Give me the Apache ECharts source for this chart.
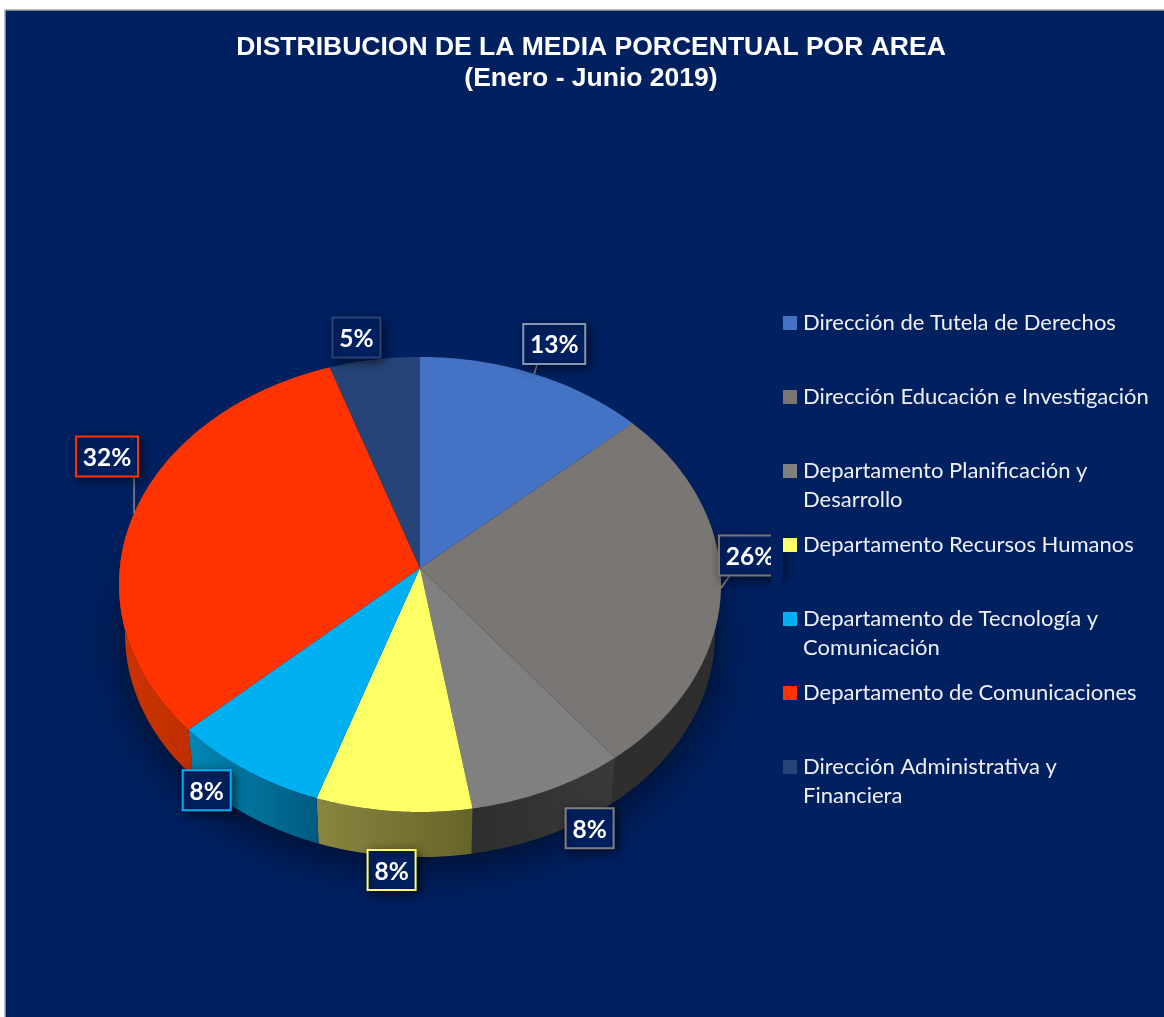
<!DOCTYPE html>
<html>
<head>
<meta charset="utf-8">
<style>html,body{margin:0;padding:0;background:#fff;overflow:hidden}#c{width:1164px;height:1017px}</style>
<script src="https://cdn.jsdelivr.net/npm/echarts@6/dist/echarts.min.js"></script>
</head>
<body>
<div id="c"></div>
<script>
const categories = [
  'Dirección de Tutela de Derechos',
  'Dirección Educación e Investigación',
  'Departamento Planificación y Desarrollo',
  'Departamento Recursos Humanos',
  'Departamento de Tecnología y Comunicación',
  'Departamento de Comunicaciones',
  'Dirección Administrativa y Financiera'
];
const legendLines = [
  ['Dirección de Tutela de Derechos'],
  ['Dirección Educación e Investigación'],
  ['Departamento Planificación y', 'Desarrollo'],
  ['Departamento Recursos Humanos'],
  ['Departamento de Tecnología y', 'Comunicación'],
  ['Departamento de Comunicaciones'],
  ['Dirección Administrativa y', 'Financiera']
];
const values = [13.3, 26.2, 7.9, 7.8, 7.9, 31.7, 5.2];
const colors = ['#4472c4', '#7a7674', '#808080', '#ffff66', '#00b0f0', '#ff3300', '#264478'];
const borderColors = ['#8497b0', '#7a7674', '#808080', '#ffff66', '#00b0f0', '#ff3300', '#264478'];
const wallStops = [
  ['#2a4476', '#2a4476'], ['#2f2e2e', '#2f2e2e'], ['#2f2e2e', '#3a3a3a'], ['#8a8540', '#666428'],
  ['#0088b4', '#005a80'], ['#cc3300', '#a82800'], ['#182a4c', '#182a4c']
];
const labelOffsets = [[20, -30], [29, -32.5], [41, 38], [-2, 59], [-39.5, 20], [-27, -57], [-18, -22]];
const leaderDx = [3, 9, null, null, null, 0, null];
const titleText = 'DISTRIBUCION DE LA MEDIA PORCENTUAL POR AREA\n(Enero - Junio 2019)';

const hub = { x: 420, y: 568 };
const A = 300.2, B = 226.3, K = 0.0725, DEPTH = 50, SHRINK = 0.98;
const total = values.reduce((a, b) => a + b, 0);

function startAngle(i) {
  let s = 0;
  for (let j = 0; j < i; j++) s += values[j];
  return s / total * Math.PI * 2;
}
function rim(t, bottom) {
  const u = Math.sin(t), v = Math.cos(t), d = 1 + K * v;
  const X = A * u / d, Y = -B * v / d;
  return bottom ? [hub.x + X * SHRINK, hub.y + Y * SHRINK + DEPTH] : [hub.x + X, hub.y + Y];
}
function arc(t0, t1, bottom) {
  const n = 80, pts = [];
  for (let k = 0; k <= n; k++) pts.push(rim(t0 + (t1 - t0) * k / n, bottom));
  return pts;
}
function sweep(i, api) {
  const t0 = startAngle(i);
  return [t0, t0 + api.value(0) / total * Math.PI * 2];
}
function wallItem(i) {
  return function (p, api) {
    const [t0, t1] = sweep(i, api);
    return {
      type: 'polygon',
      shape: { points: arc(t0, t1, false).concat(arc(t0, t1, true).reverse()) },
      style: {
        fill: { type: 'linear', x: 0, y: 0, x2: 1, y2: 0, colorStops: [
          { offset: 0, color: wallStops[i][0] }, { offset: 1, color: wallStops[i][1] }] }
      }
    };
  };
}
function topItem(i) {
  return function (p, api) {
    const [t0, t1] = sweep(i, api);
    return {
      type: 'polygon',
      shape: { points: [[hub.x, hub.y]].concat(arc(t0, t1, false)) },
      style: { fill: colors[i] }
    };
  };
}
function labelItem(i) {
  return function (p, api) {
    const [t0, t1] = sweep(i, api);
    const r = rim((t0 + t1) / 2, false);
    const text = Math.round(api.value(0)) + '%';
    const w = text.length > 2 ? 62 : 48, h = 40;
    const cx = r[0] + labelOffsets[i][0], cy = r[1] + labelOffsets[i][1];
    const children = [];
    if (leaderDx[i] !== null) {
      children.push({
        type: 'line',
        shape: { x1: r[0] + leaderDx[i], y1: cy + h / 2, x2: r[0], y2: r[1] },
        style: { stroke: '#8c8c8c', lineWidth: 1.5 }
      });
    }
    children.push({
      type: 'rect',
      shape: { x: cx - w / 2, y: cy - h / 2, width: w, height: h },
      style: { fill: '#002060', stroke: borderColors[i], lineWidth: 2,
        shadowBlur: 10, shadowColor: 'rgba(0,0,0,0.55)', shadowOffsetX: 3, shadowOffsetY: 3 }
    });
    children.push({
      type: 'text',
      style: { text: text, x: cx, y: cy + 1.5, fill: '#ffffff', align: 'center', verticalAlign: 'middle',
        font: 'bold 24.5px Lato, "Noto Sans", sans-serif' }
    });
    return { type: 'group', children: children };
  };
}
function layer(fn, z) {
  return categories.map((name, i) => ({
    type: 'custom', coordinateSystem: 'none', name: name, z: z, silent: true, clip: false,
    itemStyle: { color: colors[i] },
    renderItem: fn(i),
    data: [[values[i]]]
  }));
}

const LINE_H = 29;
const legendCenters = [323, 397, 471, 545, 619, 693, 767];
const legends = categories.map((name, i) => {
  const lines = legendLines[i];
  const txt = lines.length > 1 ? '\n' + lines.join('\n') : lines[0];
  const n = lines.length > 1 ? 3 : 1;
  return {
    show: true, z: 8, left: 783, top: legendCenters[i] - n * LINE_H / 2, padding: 0, orient: 'vertical',
    icon: 'rect', itemWidth: 14, itemHeight: 14, selectedMode: false,
    data: [name],
    formatter: () => txt,
    textStyle: { color: '#eef0f5', fontFamily: 'Lato, "Noto Sans", sans-serif', fontSize: 22, lineHeight: LINE_H, padding: [0, 0, 0, 1] }
  };
});

const chart = echarts.init(document.getElementById('c'), null, { renderer: 'canvas' });
chart.setOption({
  animation: false,
  backgroundColor: '#ffffff',
  title: {
    text: titleText, left: 586, top: 27, textAlign: 'center', z: 9,
    textStyle: { color: '#ffffff', fontFamily: '"Liberation Sans", Arial, sans-serif', fontWeight: 'bold', fontSize: 26.5, lineHeight: 31 }
  },
  legend: legends,
  graphic: [
    { type: 'rect', z: 0, silent: true, shape: { x: 5, y: 10, width: 1175, height: 1020 },
      style: { fill: '#002060', stroke: '#a6a6a6', lineWidth: 1.5 } },
    { type: 'ellipse', z: 1, silent: true, shape: { cx: 420, cy: 636, rx: 294, ry: 222 },
      style: { fill: '#00153f', shadowBlur: 46, shadowColor: 'rgba(0,0,0,0.6)', shadowOffsetY: 6 } },
    { type: 'rect', z: 7, silent: true, shape: { x: 771, y: 525, width: 12, height: 60 },
      style: { fill: '#002060' } }
  ],
  series: layer(wallItem, 2).concat(layer(topItem, 3), layer(labelItem, 5))
});
</script>
</body>
</html>
